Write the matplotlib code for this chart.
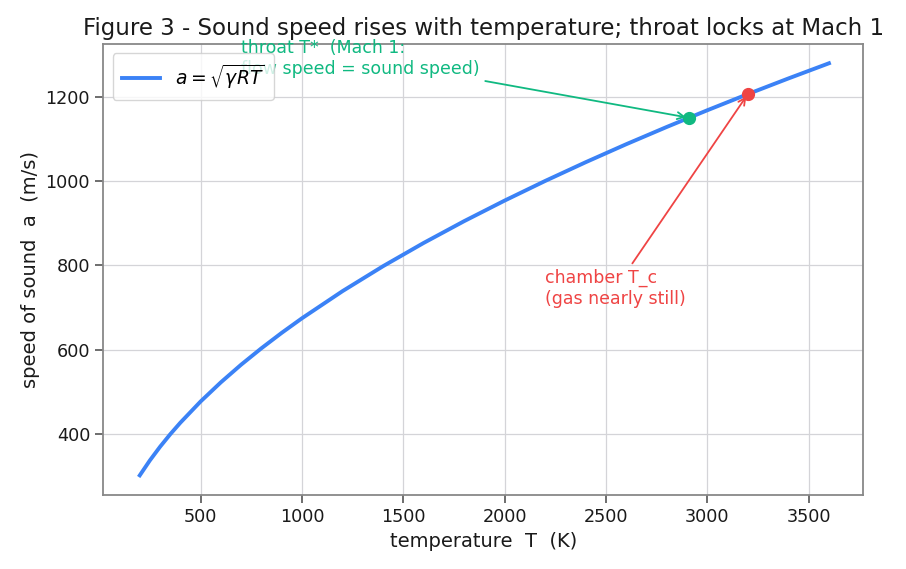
import matplotlib
matplotlib.use("Agg")
import matplotlib.pyplot as plt

# temperature (K) and speed of sound (m/s)
T = [200, 250, 300, 350, 400, 500, 600, 700, 800, 900, 1000, 1200, 1400,
     1600, 1800, 2000, 2200, 2400, 2600, 2800, 3000, 3200, 3400, 3600]
a = [301.7, 337.3, 369.5, 399.1, 426.6, 477.0, 522.5, 564.4, 603.3, 639.9,
     674.5, 738.9, 798.1, 853.2, 905.0, 953.9, 1000.5, 1045.0, 1087.7,
     1128.7, 1168.3, 1206.7, 1243.8, 1279.8]

T_throat, a_throat = 2909, 1150.5
T_chamber, a_chamber = 3200, 1206.7

blue = '#3b82f6'
green = '#10b981'
red = '#ef4444'

fig, ax = plt.subplots(figsize=(9.06, 5.69), dpi=100)
fig.subplots_adjust(left=0.114, right=0.953, top=0.923, bottom=0.13)

ax.plot(T, a, color=blue, linewidth=2.8, label=r'$a=\sqrt{\gamma R T}$')
ax.plot([T_throat], [a_throat], 'o', color=green, markersize=8.5, zorder=4)
ax.plot([T_chamber], [a_chamber], 'o', color=red, markersize=8.5, zorder=4)

ax.annotate('throat T*  (Mach 1:\nflow speed = sound speed)',
            xy=(T_throat, a_throat), xytext=(700, 1245),
            ha='left', va='bottom', color=green, fontsize=12.5,
            arrowprops=dict(arrowstyle='->', color=green, lw=1.3))
ax.annotate('chamber T_c\n(gas nearly still)',
            xy=(T_chamber, a_chamber), xytext=(2200, 700),
            ha='left', va='bottom', color=red, fontsize=12.5,
            arrowprops=dict(arrowstyle='->', color=red, lw=1.3))

ax.set_xlim(20, 3770)
ax.set_ylim(255, 1326)
ax.set_xticks([500, 1000, 1500, 2000, 2500, 3000, 3500])
ax.set_yticks([400, 600, 800, 1000, 1200])
ax.grid(True, color='#d4d4d8', linewidth=0.9)
ax.set_axisbelow(True)
for s in ax.spines.values():
    s.set_color('#888888')
    s.set_linewidth(1.3)
ax.tick_params(labelsize=12.7, color='#555555', length=6, width=1.2,
               labelcolor='#1a1a1a')

ax.set_xlabel('temperature  T  (K)', fontsize=14, color='#1a1a1a')
ax.set_ylabel('speed of sound  a  (m/s)', fontsize=14, color='#1a1a1a')
ax.set_title('Figure 3 - Sound speed rises with temperature; throat locks at Mach 1',
             fontsize=16.5, color='#1a1a1a')
ax.legend(loc='upper left', fontsize=13.5, borderpad=0.5)

fig.savefig('out.png', dpi=100)
